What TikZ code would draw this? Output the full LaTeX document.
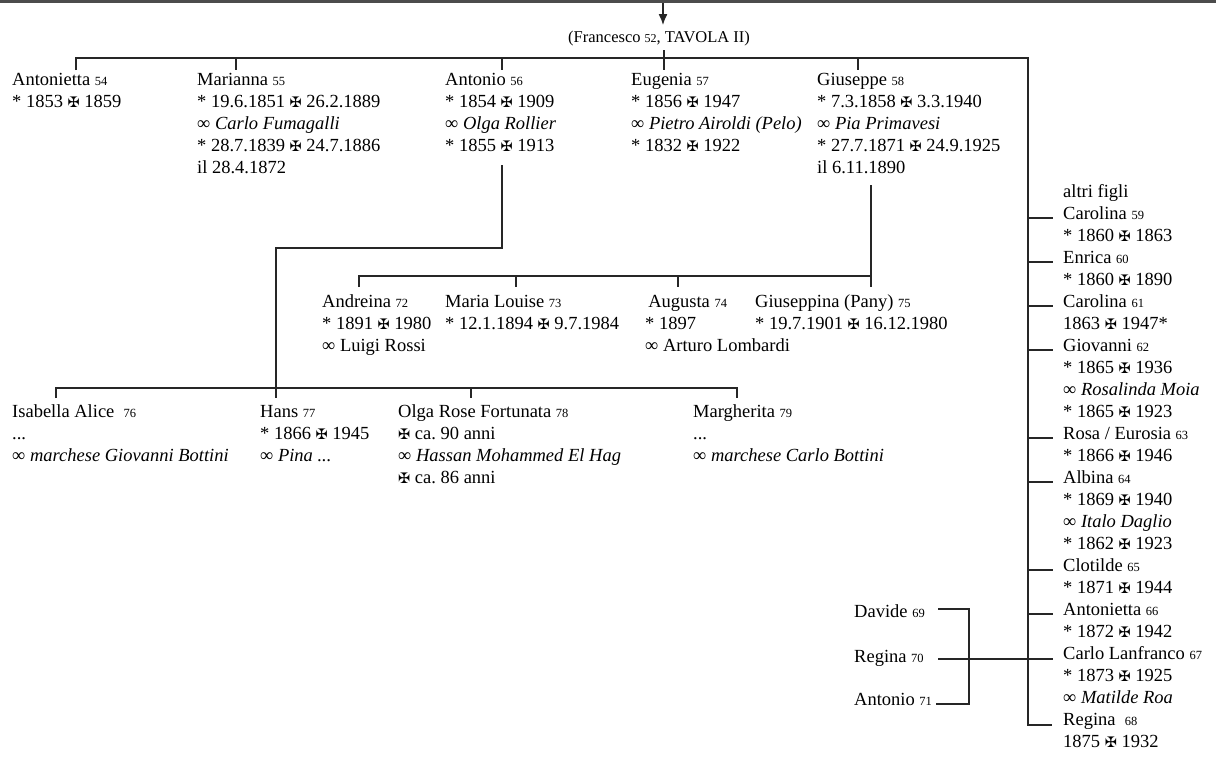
\documentclass[tikz,border=0pt]{standalone}
\usepackage{fontspec}
\setmainfont{Liberation Serif}
\newfontfamily\dejavu{DejaVu Sans}
\usetikzlibrary{arrows.meta}
\frenchspacing
\newcommand\nr[1]{{\fontsize{12.5}{12.5}\selectfont #1}}
\newcommand\mx{{\dejavu\fontsize{14.5}{14.5}\selectfont ✠}}
\newcommand\blk[1]{\begin{tabular}[t]{@{}l@{}}#1\end{tabular}}
\newcommand\nl{\\\relax}
\tikzset{
  conn/.style={line width=1.3pt, line join=miter, draw=black!85},
  txt/.style={anchor=base west, inner sep=0pt, font=\fontsize{18.5}{22}\selectfont},
  hdrtxt/.style={anchor=base west, inner sep=0pt, font=\fontsize{16.5}{18}\selectfont},
}
\begin{document}
\begin{tikzpicture}[x=1pt,y=-1pt]
\useasboundingbox (0,0) rectangle (1216,756);
% top rule
\coordinate (topL) at (0,1.5); \coordinate (topR) at (1216,1.5);
\draw[line width=3pt, draw=black!70] (topL) -- (topR);
% header
\node[hdrtxt] (hdr) at (568,42) {(Francesco {\fontsize{12}{12}\selectfont 52}, TAVOLA II)};
\coordinate (arrS) at (663,3); \coordinate (arrE) at (663,25);
\draw[conn,-{Latex[length=11pt,width=9pt]}] (arrS) -- (arrE);
\coordinate (hT) at (664,50);

% first generation
\node[txt] (n54) at (12,85) {\blk{Antonietta \nr{54}\nl * 1853 \mx{} 1859}};
\node[txt] (n55) at (197,85) {\blk{Marianna \nr{55}\nl * 19.6.1851 \mx{} 26.2.1889\nl ∞ \textit{Carlo Fumagalli}\nl * 28.7.1839 \mx{} 24.7.1886\nl il 28.4.1872}};
\node[txt] (n56) at (445,85) {\blk{Antonio \nr{56}\nl * 1854 \mx{} 1909\nl ∞ \textit{Olga Rollier}\nl * 1855 \mx{} 1913}};
\node[txt] (n57) at (631,85) {\blk{Eugenia \nr{57}\nl * 1856 \mx{} 1947\nl ∞ \textit{Pietro Airoldi (Pelo)}\nl * 1832 \mx{} 1922}};
\node[txt] (n58) at (817,85) {\blk{Giuseppe \nr{58}\nl * 7.3.1858 \mx{} 3.3.1940\nl ∞ \textit{Pia Primavesi}\nl * 27.7.1871 \mx{} 24.9.1925\nl il 6.11.1890}};

% main bar
\coordinate (t54) at (76,70); \coordinate (bL) at (76,58); \coordinate (bR) at (1028,58);
\coordinate (rB) at (1028,725); \coordinate (rE) at (1052,725);
\draw[conn] (t54) -- (bL) -- (bR) -- (rB) -- (rE);
\coordinate (b55) at (236,58); \coordinate (t55) at (236,70);
\coordinate (b56) at (502,58); \coordinate (t56) at (502,70);
\coordinate (t57) at (664,70);
\coordinate (b58) at (858,58); \coordinate (t58) at (858,70);
\draw[conn] (b55) -- (t55);
\draw[conn] (b56) -- (t56);
\draw[conn] (hT) -- (t57);
\draw[conn] (b58) -- (t58);

% right column
\node[txt] (alt) at (1063,197) {altri figli};
\node[txt] (n59) at (1063,219) {\blk{Carolina \nr{59}\nl * 1860 \mx{} 1863}};
\node[txt] (n60) at (1063,263) {\blk{Enrica \nr{60}\nl * 1860 \mx{} 1890}};
\node[txt] (n61) at (1063,307) {\blk{Carolina \nr{61}\nl 1863 \mx{} 1947*}};
\node[txt] (n62) at (1063,351) {\blk{Giovanni \nr{62}\nl * 1865 \mx{} 1936\nl ∞ \textit{Rosalinda Moia}\nl * 1865 \mx{} 1923}};
\node[txt] (n63) at (1063,439) {\blk{Rosa / Eurosia \nr{63}\nl * 1866 \mx{} 1946}};
\node[txt] (n64) at (1063,483) {\blk{Albina \nr{64}\nl * 1869 \mx{} 1940\nl ∞ \textit{Italo Daglio}\nl * 1862 \mx{} 1923}};
\node[txt] (n65) at (1063,571) {\blk{Clotilde \nr{65}\nl * 1871 \mx{} 1944}};
\node[txt] (n66) at (1063,615) {\blk{Antonietta \nr{66}\nl * 1872 \mx{} 1942}};
\node[txt] (n67) at (1063,659) {\blk{Carlo Lanfranco \nr{67}\nl * 1873 \mx{} 1925\nl ∞ \textit{Matilde Roa}}};
\node[txt] (n68) at (1063,725) {\blk{Regina~~\nr{68}\nl 1875 \mx{} 1932}};
\foreach \yy/\nm in {218/59,262/60,306/61,350/62,438/63,482/64,570/65,614/66}{
  \coordinate (v\nm) at (1028,\yy); \coordinate (h\nm) at (1053,\yy);
  \draw[conn] (v\nm) -- (h\nm);
}
% Carlo Lanfranco's children
\node[txt] (n69) at (854,617) {Davide \nr{69}};
\node[txt] (n70) at (854,662) {Regina \nr{70}};
\node[txt] (n71) at (854,705) {Antonio \nr{71}};
\coordinate (d69) at (938,609); \coordinate (k69) at (969,609);
\coordinate (k71) at (969,704); \coordinate (d71) at (936,704);
\coordinate (d70) at (938,659); \coordinate (h67) at (1053,659);
\draw[conn] (d69) -- (k69) -- (k71) -- (d71);
\draw[conn] (d70) -- (h67);

% Antonio's children
\coordinate (a1) at (502,165); \coordinate (a2) at (502,248);
\coordinate (a3) at (276,248); \coordinate (a4) at (276,398);
\draw[conn] (a1) -- (a2) -- (a3) -- (a4);
\coordinate (g1) at (56,398); \coordinate (g2) at (56,388);
\coordinate (g3) at (737,388); \coordinate (g4) at (737,398);
\coordinate (g5) at (471,388); \coordinate (g6) at (471,398);
\draw[conn] (g1) -- (g2) -- (g3) -- (g4);
\draw[conn] (g5) -- (g6);
\node[txt] (n76) at (12,417) {\blk{Isabella Alice~~\nr{76}\nl ...\nl ∞ \textit{marchese Giovanni Bottini}}};
\node[txt] (n77) at (260,417) {\blk{Hans \nr{77}\nl * 1866 \mx{} 1945\nl ∞ \textit{Pina ...}}};
\node[txt] (n78) at (398,417) {\blk{Olga Rose Fortunata \nr{78}\nl \mx{} ca. 90 anni\nl ∞ \textit{Hassan Mohammed El Hag}\nl \mx{} ca. 86 anni}};
\node[txt] (n79) at (693,417) {\blk{Margherita \nr{79}\nl ...\nl ∞ \textit{marchese Carlo Bottini}}};

% Giuseppe's children
\coordinate (p1) at (871,185); \coordinate (p2) at (871,287);
\draw[conn] (p1) -- (p2);
\coordinate (q1) at (359,287); \coordinate (q2) at (359,276); \coordinate (q3) at (871,276);
\draw[conn] (q1) -- (q2) -- (q3);
\coordinate (q4) at (516,276); \coordinate (q5) at (516,287);
\coordinate (q6) at (678,276); \coordinate (q7) at (678,287);
\draw[conn] (q4) -- (q5);
\draw[conn] (q6) -- (q7);
\node[txt] (n72) at (322,307) {\blk{Andreina \nr{72}\nl * 1891 \mx{} 1980\nl ∞ Luigi Rossi}};
\node[txt] (n73) at (445,307) {\blk{Maria Louise \nr{73}\nl * 12.1.1894 \mx{} 9.7.1984}};
\node[txt] (n74) at (645,307) {\blk{\,Augusta \nr{74}\nl * 1897\nl ∞ Arturo Lombardi}};
\node[txt] (n75) at (755,307) {\blk{Giuseppina (Pany) \nr{75}\nl * 19.7.1901 \mx{} 16.12.1980}};
\end{tikzpicture}
\end{document}
